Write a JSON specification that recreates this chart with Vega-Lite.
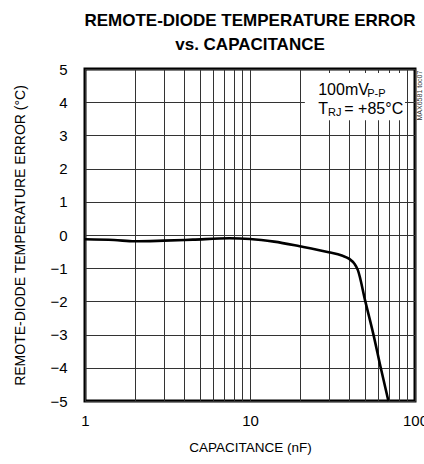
{
  "$schema": "https://vega.github.io/schema/vega-lite/v6.json",
  "width": 330,
  "height": 332,
  "autosize": {"type": "none"},
  "padding": {"left": 85, "top": 69, "right": 9, "bottom": 63},
  "background": "white",
  "title": {
    "text": ["REMOTE-DIODE TEMPERATURE ERROR", "vs. CAPACITANCE"],
    "font": "Liberation Sans",
    "fontSize": 17,
    "fontWeight": "bold",
    "lineHeight": 24,
    "anchor": "middle",
    "offset": 8,
    "color": "black"
  },
  "config": {
    "view": {"stroke": "black", "strokeWidth": 3},
    "axis": {
      "labelFont": "Liberation Sans",
      "titleFont": "Liberation Sans",
      "labelFontSize": 15,
      "titleFontSize": 14,
      "titleFontWeight": "normal",
      "labelColor": "black",
      "titleColor": "black",
      "gridColor": "#333",
      "gridOpacity": 1,
      "gridWidth": 1,
      "ticks": false,
      "domain": false,
      "labelOverlap": false
    }
  },
  "datasets": {
    "curve": [
      {"c": 1, "err": -0.13},
      {"c": 1.5, "err": -0.15},
      {"c": 2, "err": -0.19},
      {"c": 3, "err": -0.17},
      {"c": 4.5, "err": -0.14},
      {"c": 7.5, "err": -0.1},
      {"c": 10, "err": -0.12},
      {"c": 14, "err": -0.2},
      {"c": 20, "err": -0.34},
      {"c": 30, "err": -0.52},
      {"c": 36, "err": -0.62},
      {"c": 40, "err": -0.72},
      {"c": 43, "err": -0.87},
      {"c": 45, "err": -1.05},
      {"c": 50, "err": -2.0},
      {"c": 56, "err": -3.0},
      {"c": 62, "err": -4.0},
      {"c": 69, "err": -5.0}
    ],
    "box": [{"x1": 21.5, "x2": 87, "y1": 4.88, "y2": 3.46}],
    "big": [
      {"c": 25.9, "err": 4.22, "t": "100mV"},
      {"c": 25.9, "err": 3.64, "t": "T"},
      {"c": 37.3, "err": 3.64, "t": "= +85°C"}
    ],
    "small": [
      {"c": 51.3, "err": 4.16, "t": "P-P"},
      {"c": 29.7, "err": 3.58, "t": "RJ"}
    ],
    "toc": [{"c": 107, "err": 3.45, "t": "MAX6581 toc07"}]
  },
  "layer": [
    {
      "data": {"name": "box"},
      "mark": {"type": "rect", "fill": "white", "stroke": null},
      "encoding": {
        "x": {"field": "x1", "type": "quantitative", "scale": {"type": "log", "domain": [1, 100], "nice": false},
          "axis": {
            "values": [1,2,3,4,5,6,7,8,9,10,20,30,40,50,60,70,80,90,100],
            "labelExpr": "datum.value == 1 ? '1' : datum.value == 10 ? '10' : datum.value == 100 ? '100' : ''",
            "labelPadding": 12,
            "labelFlush": false,
            "grid": true,
            "title": "CAPACITANCE (nF)",
            "titleFontSize": 13.5,
            "titlePadding": 12
          }},
        "x2": {"field": "x2"},
        "y": {"field": "y1", "type": "quantitative", "scale": {"domain": [-5, 5], "nice": false},
          "axis": {
            "values": [-5,-4,-3,-2,-1,0,1,2,3,4,5],
            "tickCount": 20,
            "format": "d",
            "labelPadding": 18,
            "grid": true,
            "title": "REMOTE-DIODE TEMPERATURE ERROR (°C)",
            "titlePadding": 22
          }},
        "y2": {"field": "y2"}
      }
    },
    {
      "data": {"name": "curve"},
      "mark": {"type": "line", "color": "black", "strokeWidth": 2.6, "interpolate": "monotone"},
      "encoding": {
        "x": {"field": "c", "type": "quantitative"},
        "y": {"field": "err", "type": "quantitative"}
      }
    },
    {
      "data": {"name": "big"},
      "mark": {"type": "text", "font": "Liberation Sans", "fontSize": 16, "align": "left", "baseline": "alphabetic", "color": "black"},
      "encoding": {
        "x": {"field": "c", "type": "quantitative"},
        "y": {"field": "err", "type": "quantitative"},
        "text": {"field": "t"}
      }
    },
    {
      "data": {"name": "small"},
      "mark": {"type": "text", "font": "Liberation Sans", "fontSize": 11, "align": "left", "baseline": "alphabetic", "color": "black"},
      "encoding": {
        "x": {"field": "c", "type": "quantitative"},
        "y": {"field": "err", "type": "quantitative"},
        "text": {"field": "t"}
      }
    },
    {
      "data": {"name": "toc"},
      "mark": {"type": "text", "font": "Liberation Sans", "fontSize": 7, "align": "left", "baseline": "middle", "angle": 270, "color": "#333", "clip": false},
      "encoding": {
        "x": {"field": "c", "type": "quantitative"},
        "y": {"field": "err", "type": "quantitative"},
        "text": {"field": "t"}
      }
    }
  ]
}
